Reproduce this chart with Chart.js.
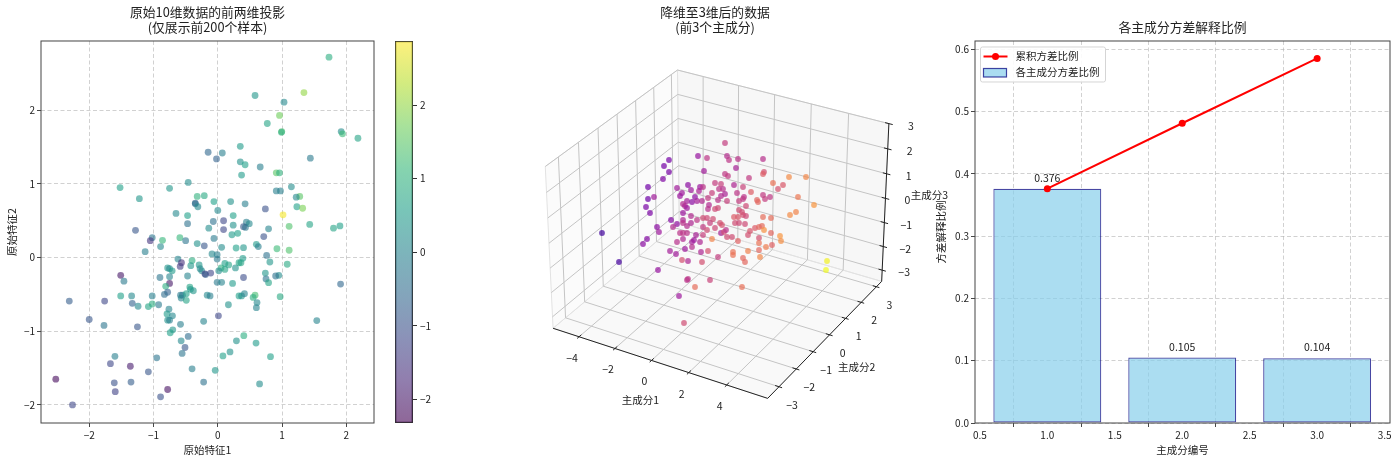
<!DOCTYPE html>
<html>
<head>
<meta charset="utf-8">
<title>PCA</title>
<script src="https://cdn.jsdelivr.net/npm/chart.js@4/dist/chart.umd.js"></script>
<style>
	html, body { margin: 0; padding: 0; background: #fff; }
	body { position: relative; width: 1400px; height: 462px; overflow: hidden; }
	canvas { position: absolute; top: 0; }
</style>
</head>
<body>
<canvas id="scatter2d" width="385" height="462" style="left:0"></canvas>
<canvas id="colorbar" width="55" height="462" style="left:385px"></canvas>
<canvas id="scatter3d" width="490" height="462" style="left:470px"></canvas>
<canvas id="variance" width="470" height="462" style="left:930px"></canvas>
<script>
// left panel: feature 1, feature 2, target (colour)
const featureX = [
	-1.52, -1.22, -.75, -.46, -.15, -.02, .07, .35, .35, .37,
	-.32, -.21, -.35, -.35, -.31, -.06, .20, -.65, -.47, 0,
	.24, -.47, -.07, .09, .24, -.14, .09, -1.28, -1.02, -1.05,
	-.86, -.89, -.59, -.50, -.32, -.21, -.06, .06, .22, .31,
	.285, -1.13, -.09, -.01, -.01, -.62, -.40, -.565, -.585, -.42,
	-.29, -.275, -.25, .11, .17, .05, .11, .015, .275, .33,
	-.78, -.75, -.71, -.75, -.90, -.47, -.20, -.19, -.11, -1.51,
	-1.46, -.75, -.81, -.01, .06, .23, -.435, -.425, -.38, -.78,
	-.83, -1.51, -1.34, -1.02, -.58, -.55, -.57, -.49, -.49, -.165,
	-.12, .33, -2.31, -1.76, -1.33, -1.24, -1.08, -1.02, -.92, -.76,
	-.79, -.705, -.78, -.75, .165, .01, -.22, -.58, -2.0, -1.77,
	-1.25, -.70, -.74, -.46, -.57, .29, -.51, .19, -.555, .08,
	-1.60, -.95, -1.67, -1.36, -.40, -.04, -1.08, -2.52, -1.61, -1.35,
	-.22, -1.595, -.78, -.89, -2.26, 1.73, .58, 1.34, 1.03, .96,
	.77, .995, .99, 1.92, 1.94, 2.18, .425, .66, 1.44, .91,
	.96, .91, .975, 1.145, 1.275, 1.22, 1.23, 1.32, .74, .425,
	1.015, .445, .49, .40, .43, 1.11, 1.43, 1.80, 1.90, .79,
	.715, .60, .63, .40, .92, 1.11, .76, .81, 1.08, .39,
	.36, .74, .95, .90, .75, .79, .40, 1.91, .58, .37,
	.415, .55, .97, .61, .60, 1.54, .405, .595, .82, .65
];
const featureY = [
	.95, .80, .94, 1.02, 1.43, 1.34, 1.42, 1.51, 1.30, 1.12,
	.83, .84, .74, .73, .69, .76, .76, .60, .57, .64,
	.57, .46, .49, .50, .44, .40, .38, .37, .27, .23,
	.235, .15, .27, .23, .19, .16, .26, .14, .31, .33,
	.13, .08, .05, .04, -.02, -.02, -.04, -.07, -.12, -.11,
	-.10, -.15, -.18, -.08, -.10, -.14, -.16, -.18, -.14, -.07,
	-.14, -.15, -.18, -.26, -.27, -.25, -.22, -.23, -.21, -.24,
	-.32, -.35, -.39, -.335, -.335, -.35, -.40, -.43, -.45, -.47,
	-.50, -.52, -.52, -.52, -.51, -.51, -.55, -.49, -.58, -.51,
	-.52, -.52, -.59, -.59, -.62, -.66, -.665, -.63, -.64, -.70,
	-.765, -.79, -.85, -.85, -.64, -.79, -.865, -.905, -.84, -.92,
	-.94, -.98, -1.02, -1.07, -1.13, -1.13, -1.22, -1.28, -1.30, -1.335,
	-1.34, -1.36, -1.44, -1.475, -1.51, -1.53, -1.55, -1.65, -1.70, -1.69,
	-1.69, -1.82, -1.79, -1.89, -2.0, 2.72, 2.20, 2.24, 2.11, 1.93,
	1.82, 1.71, 1.70, 1.71, 1.68, 1.62, 1.26, 1.23, 1.35, 1.15,
	1.15, .905, .905, .96, .83, .82, .69, .67, .66, .73,
	.58, .48, .46, .42, .41, .425, .45, .40, .43, .39,
	.285, .18, .15, .135, .12, .10, .03, -.06, -.09, -.01,
	-.07, -.21, -.24, -.25, -.29, -.34, -.27, -.36, -.51, -.52,
	-.49, -.54, -.53, -.61, -.68, -.855, -1.06, -1.16, -1.345, -1.715
];
const featureTarget = [
	.6, .4, .4, .2, -.6, -.7, -.1, .5, .3, .5,
	1.0, .8, -.8, -.3, .1, .6, .3, .1, .6, .1,
	.6, -.4, -.4, -1.2, .3, .2, -1.2, -.9, -.3, -1.5,
	1.1, .1, 1.1, -.3, .3, -.9, -.2, .2, .5, .6,
	.6, -.1, .1, -.1, -.2, 0, .9, -1.6, -1.4, .4,
	.4, .2, .1, .6, .7, .9, .7, .2, .3, .7,
	.4, .1, .5, 0, -.3, 0, -1.4, -.8, -1.2, -2.0,
	-.2, -2.0, .9, -.2, 0, .5, .7, .5, .4, -.7,
	-.5, .6, .1, -.1, -.2, -.2, 0, .6, .7, .1,
	-.1, .6, -.8, -1.2, -.7, .1, .7, .9, -.2, 0,
	.5, .1, .3, -.1, .3, -1.2, 0, -.1, -.9, -.3,
	-.9, .4, .6, -.5, .1, .3, -.9, .3, -.3, .6,
	-.1, -.3, -1.2, -1.9, -.1, .4, -.9, -2.2, -1.0, -.8,
	-.4, -1.3, -2.1, -1.0, -1.2, .9, .4, 2.0, .1, 1.7,
	.7, 1.3, 1.0, .2, 1.2, .7, .6, -.1, -.2, 1.5,
	1.0, -.1, -.1, .2, 1.5, .1, .6, 1.8, -1.0, -.1,
	2.8, -.1, .1, -.9, -.3, 1.4, .7, .7, .6, 0,
	-1.0, .5, -.1, .4, 1.2, 1.4, -.4, .4, .8, .5,
	.7, .4, .2, -.4, -.3, .7, -1.1, -.6, 1.3, .3,
	0, .9, .8, .1, 0, 0, .9, .5, .6, .2
];
const featureXTicks = [-2, -1, 0, 1, 2];
const featureYTicks = [-2, -1, 0, 1, 2];
const colorbarTicks = [-2, -1, 0, 1, 2];
const targetRange = [-2.32, 2.87];

const viewH = [
	-.51, -.56, -.51, -.57, -.72, -.72, -.66, -.74, -.70, -1.18,
	-.63, -.61, -.73, -.77, -.49, -.22, -.13, .05, .07, .09,
	-.16, .05, .08, -.43, -.32, -.29, -.20, -.17, -.21, -.05,
	.01, .03, -.01, -.08, .05, .01, -.38, -.40, -.25, -.33,
	-.28, -.23, -.18, -.37, -.35, -.33, -.12, .07, -.02, -.11,
	-.12, -.02, -.05, -.37, -.29, -.17, -.13, -.07, -.37, -.43,
	-.47, -.37, -.33, -.29, -.23, -.17, -.10, 0, .02, -.05,
	-.13, -.40, -.37, -.33, -.24, -.17, .01, .04, .07, -.08,
	-.43, -.37, -.28, -.26, -.20, -.35, -.28, -.50, -.44, -.19,
	-.12, -.02, -1.01, -.62, -.38, -.32, -.18, -.32, -.33, -.10,
	-.25, -.41, -.36, .18, .43, .16, .44, .43, .29, .69,
	.86, .53, .63, .58, .14, .23, .31, .17, .43, .45,
	.50, .78, .94, .24, .23, .19, .37, .38, .26, .19,
	.22, .14, .18, .23, .26, .43, .51, .76, .70, .15,
	.19, .25, .30, .35, .39, .42, .44, .06, .12, .28,
	.51, .39, .60, .61, .18, .39, .46, .52, .28, .39,
	.13, .13, .23, .40, 1.07, 1.06, .25, .22
];
const viewV = [
	.66, .60, .54, .47, .39, .27, .29, .19, .13, -.07,
	-.01, -.06, -.13, -.18, .06, .70, .68, .83, .70, .66,
	.55, .52, .50, .38, .41, .36, .39, .39, .35, .43,
	.42, .37, .37, .33, .32, .30, .33, .30, .29, .25,
	.24, .25, .25, .22, .20, .18, .28, .25, .26, .21,
	.17, .18, .17, .13, .10, .08, .08, .07, .06, .02,
	-.01, .03, 0, .03, .06, -.01, .03, .03, .01, -.02,
	-.04, -.07, -.07, -.07, -.09, -.09, -.07, -.06, -.11, -.13,
	-.16, -.13, -.16, -.14, -.16, -.23, -.21, -.25, -.28, -.26,
	-.25, -.31, -.36, -.44, -.34, -.35, -.36, -.53, -.54, -.54,
	-.61, -.70, -.97, .67, .67, .58, .54, .52, .48, .49,
	.49, .43, .41, .37, .41, .39, .34, .33, .31, .27,
	.29, .29, .21, .29, .27, .25, .26, .24, .20, .16,
	.14, .09, .09, .11, .10, .09, .08, .14, .11, .03,
	.03, .02, -.05, -.02, -.01, 0, -.04, -.04, -.11, -.09,
	-.07, -.12, -.10, -.15, -.15, -.17, -.21, -.19, -.25, -.24,
	-.26, -.29, -.32, -.31, -.35, -.44, -.36, -.61
];
const viewPc1 = [
	-2.6, -2.6, -2.5, -2.3, -2.7, -2.8, -1.4, -2.5, -2.4, -3.9,
	-2.0, -1.5, -2.2, -2.0, -2.2, -1.7, -.5, -.2, -.8, -.5,
	-1.4, -.4, -.3, -1.4, -2.0, -1.5, -1.6, -.6, -1.1, -.2,
	-.1, -.7, -.5, -.1, -1.1, -.9, -1.5, -1.6, -2.0, -1.3,
	-2.0, -1.3, -.9, -.9, -1.0, -1.5, -.3, -.1, -.6, -.9,
	-.7, .2, .2, -1.6, -.9, .3, .2, .3, -1.0, -1.9,
	-.9, -.6, -.8, -1.0, -.5, -.3, -.1, .4, .5, .2,
	.3, -.6, -.5, -.6, -1.2, -.1, -1.2, .3, .3, 2.1,
	-.7, -.9, -1.3, -1.5, -1.0, -1.5, -.8, -1.3, -1.4, -1.0,
	.5, -.2, -3.8, -1.7, .4, -1.0, .4, -.5, -.6, 0,
	1.4, -1.5, .3, -.6, -.7, -1.2, .4, .9, -.3, 2.3,
	2.2, 1.6, .7, .5, -1.0, 0, .9, -.5, -.3, -.2,
	-.4, 1.7, 2.6, -.6, -.4, -.2, 1.1, 1.2, .2, .3,
	.3, .8, .7, .4, .2, 1.4, 1.4, 2.1, 2.3, .3,
	.2, .2, .6, .8, 1.2, 1.3, 2.5, -.6, .3, .4,
	1.2, .4, 2.6, 2.4, 1.0, 1.6, 1.9, 1.0, 2.0, 1.2,
	1.6, 1.6, 1.2, 2.2, 4.9, 5.1, 1.2, 1.5
];
const pc1Range = [-4.9, 5.1];
const pc1Ticks = [-4, -2, 0, 2, 4];
const pc2Ticks = [-3, -2, -1, 0, 1, 2, 3];
const pc3Ticks = [-3, -2, -1, 0, 1, 2, 3];
const pc1Limits = [-5.47, 6.12];
const pc2Limits = [-3.64, 3.35];
const pc3Limits = [-3.48, 3.0];

// right panel
const componentIds = [1, 2, 3];
const varianceRatio = [0.376, 0.105, 0.104];
const cumulativeRatio = [0.376, 0.481, 0.585];
const varianceXTicks = [0.5, 1.0, 1.5, 2.0, 2.5, 3.0, 3.5];
const varianceYTicks = [0, 0.1, 0.2, 0.3, 0.4, 0.5, 0.6];

const viridis = ['#440154', '#482878', '#3e4989', '#31688e', '#26828e', '#1f9e89', '#35b779', '#6ece58', '#b5de2b', '#fde725'];
const plasma = ['#0d0887', '#47039f', '#7301a8', '#9c179e', '#bd3786', '#d8576b', '#ed7953', '#fb9f3a', '#fdca26', '#f0f921'];

const FONT = '"Noto Sans CJK SC", "Noto Sans", sans-serif';
const INK = '#222';
const GRID = 'rgba(176,176,176,0.65)';
const BAR_FILL = 'rgba(135,206,235,0.7)';
const BAR_EDGE = 'rgba(0,0,128,0.72)';

Chart.defaults.font.family = FONT;
Chart.defaults.font.size = 10;
Chart.defaults.color = INK;
Chart.defaults.animation = false;
Chart.defaults.responsive = false;
Chart.defaults.layout.autoPadding = false;
Chart.defaults.plugins.legend.display = false;
Chart.defaults.plugins.tooltip.enabled = false;

function hexToRgb(hex) {
	return [1, 3, 5].map((i) => parseInt(hex.slice(i, i + 2), 16));
}

function rampColor(ramp, t, alpha) {
	const pos = Math.min(Math.max(t, 0), 1) * (ramp.length - 1);
	const i = Math.min(Math.floor(pos), ramp.length - 2);
	const a = hexToRgb(ramp[i]);
	const b = hexToRgb(ramp[i + 1]);
	const rgb = a.map((v, k) => Math.round(v + (b[k] - v) * (pos - i)));
	return `rgba(${rgb[0]},${rgb[1]},${rgb[2]},${alpha})`;
}

function minusText(value) {
	return value < 0 ? `\u2212${Math.abs(value)}` : `${value}`;
}

function fixedTicks(values) {
	return (scale) => {
		scale.ticks = values.map((value) => ({ value }));
	};
}

function titleBlock(text, top, bottom) {
	return {
		display: true,
		text,
		fullSize: false,
		color: INK,
		font: { size: 12.8, weight: 'normal', lineHeight: 1.16 },
		padding: { top, bottom }
	};
}

function axis(min, max, values, label, size, format, titlePadding) {
	return {
		type: 'linear',
		min,
		max,
		offset: false,
		afterBuildTicks: fixedTicks(values),
		afterFit: (scale) => {
			if (scale.isHorizontal()) {
				scale.height = size;
			} else {
				scale.width = size;
			}
		},
		ticks: { callback: format, maxRotation: 0, autoSkip: false, padding: 2, color: INK },
		grid: { color: GRID, tickColor: '#333', tickLength: 4, lineWidth: 0.9 },
		border: { display: false, dash: [4, 2.5] },
		title: { display: true, text: label, color: INK, font: { size: 10.5 }, padding: titlePadding }
	};
}

// box round the plot area
const framePlugin = {
	id: 'frame',
	afterDatasetsDraw(chart) {
		const { ctx, chartArea: a } = chart;
		ctx.save();
		ctx.strokeStyle = '#444';
		ctx.lineWidth = 1;
		ctx.strokeRect(a.left, a.top, a.right - a.left, a.bottom - a.top);
		ctx.restore();
	}
};

new Chart(document.getElementById('scatter2d'), {
	type: 'scatter',
	data: {
		datasets: [{
			data: featureX.map((x, i) => ({ x, y: featureY[i] })),
			backgroundColor: featureTarget.map((v) => rampColor(viridis, (v - targetRange[0]) / (targetRange[1] - targetRange[0]), 0.6)),
			borderWidth: 0,
			pointRadius: 3.4
		}]
	},
	options: {
		layout: { padding: { right: 11 } },
		plugins: { title: titleBlock(['原始10维数据的前两维投影', '(仅展示前200个样本)'], 5, 6.3) },
		scales: {
			x: axis(-2.75, 2.43, featureXTicks, '原始特征1', 39, minusText, { top: 2, bottom: 6 }),
			y: axis(-2.245, 2.94, featureYTicks, '原始特征2', 41, minusText, { top: 6, bottom: 0 })
		}
	},
	plugins: [framePlugin]
});

new Chart(document.getElementById('colorbar'), {
	type: 'bar',
	data: {
		labels: ['target'],
		datasets: [{
			data: [targetRange],
			barPercentage: 1,
			categoryPercentage: 1,
			borderColor: '#333',
			borderWidth: 1,
			borderSkipped: false,
			backgroundColor: (context) => {
				const { ctx, chartArea } = context.chart;
				if (!chartArea) {
					return 'transparent';
				}
				const fill = ctx.createLinearGradient(0, chartArea.bottom, 0, chartArea.top);
				viridis.forEach((c, i) => fill.addColorStop(i / (viridis.length - 1), rampColor([c, c], 0, 0.6)));
				return fill;
			}
		}]
	},
	options: {
		layout: { padding: { left: 10, top: 41, bottom: 39 } },
		scales: {
			x: { display: false },
			y: {
				type: 'linear',
				position: 'right',
				min: targetRange[0],
				max: targetRange[1],
				afterBuildTicks: fixedTicks(colorbarTicks),
				afterFit: (scale) => { scale.width = 27; },
				ticks: { callback: minusText, padding: 3, color: INK },
				grid: { drawOnChartArea: false, tickColor: '#333', tickLength: 4 },
				border: { display: false }
			}
		}
	}
});

// matplotlib's default 3d view: box 4:4:3, elevation 30, azimuth -60, distance 10
const viewAspect = [1.1905, 1.1905, 0.8929];
const viewDist = 10;
const viewZoom = 20.65;
const viewShift = [0.004, -0.003];
const viewRight = [0.866, 0.5, 0];
const viewUp = [-0.25, 0.433, 0.866];
const viewOut = [0.433, -0.75, 0.5];

function project(pc1, pc2, pc3) {
	const p = [
		((pc1 - pc1Limits[0]) / (pc1Limits[1] - pc1Limits[0]) - 0.5) * viewAspect[0],
		((pc2 - pc2Limits[0]) / (pc2Limits[1] - pc2Limits[0]) - 0.5) * viewAspect[1],
		((pc3 - pc3Limits[0]) / (pc3Limits[1] - pc3Limits[0]) - 0.5) * viewAspect[2]
	];
	const dot = (v) => v[0] * p[0] + v[1] * p[1] + v[2] * p[2];
	const w = viewDist - dot(viewOut);
	return { x: dot(viewRight) / w * viewZoom + viewShift[0], y: dot(viewUp) / w * viewZoom + viewShift[1] };
}

const [x0, x1] = pc1Limits;
const [y0, y1] = pc2Limits;
const [z0, z1] = pc3Limits;

function segments(list) {
	const out = [];
	list.forEach(([a, b]) => {
		out.push(project(...a), project(...b), { x: NaN, y: NaN });
	});
	return out;
}

function pane(corners, fillColor, order) {
	return {
		type: 'scatter',
		showLine: true,
		data: corners.concat([corners[0]]).map((c) => project(...c)),
		backgroundColor: fillColor,
		fill: 'shape',
		borderColor: '#e2e2e2',
		borderWidth: 1,
		pointRadius: 0,
		tension: 0,
		order
	};
}

function wire(list, color, width, order) {
	return {
		type: 'scatter',
		showLine: true,
		data: segments(list),
		borderColor: color,
		borderWidth: width,
		pointRadius: 0,
		spanGaps: false,
		tension: 0,
		fill: false,
		order
	};
}

const gridSegments = [];
pc1Ticks.forEach((v) => {
	gridSegments.push([[v, y0, z0], [v, y1, z0]], [[v, y1, z0], [v, y1, z1]]);
});
pc2Ticks.forEach((v) => {
	gridSegments.push([[x1, v, z0], [x0, v, z0]], [[x0, v, z0], [x0, v, z1]]);
});
pc3Ticks.forEach((v) => {
	gridSegments.push([[x0, y0, v], [x0, y1, v]], [[x0, y1, v], [x1, y1, v]]);
});

const tickSegments = [];
pc1Ticks.forEach((v) => tickSegments.push([[v, y0 - 0.1, z0], [v, y0 + 0.12, z0]]));
pc2Ticks.forEach((v) => tickSegments.push([[x1 - 0.2, v, z0], [x1 + 0.16, v, z0]]));
pc3Ticks.forEach((v) => tickSegments.push([[x1 - 0.2, y1, v], [x1 + 0.2, y1, v]]));

const axisSegments = [
	[[x0, y0, z0], [x1, y0, z0]],
	[[x1, y0, z0], [x1, y1, z0]],
	[[x1, y1, z0], [x1, y1, z1]]
];

// tick and axis texts sit at a fixed pixel distance from their projected anchor
const axisTexts = [];
pc1Ticks.forEach((v) => axisTexts.push({ at: project(v, y0, z0), text: minusText(v), dx: -7, dy: 21 }));
pc2Ticks.forEach((v) => axisTexts.push({ at: project(x1, v, z0), text: minusText(v), dx: 13, dy: 18 }));
pc3Ticks.forEach((v) => axisTexts.push({ at: project(x1, y1, v), text: minusText(v), dx: 22, dy: 2 }));
axisTexts.push({ at: project(0, y0, z0), text: '主成分1', dx: -11, dy: 40 });
axisTexts.push({ at: project(x1, 0, z0), text: '主成分2', dx: 27, dy: 32 });
axisTexts.push({ at: project(x1, y1, 0), text: '主成分3', dx: 44, dy: -3 });

const axisTextPlugin = {
	id: 'axisText',
	afterDatasetsDraw(chart) {
		const { ctx, scales } = chart;
		ctx.save();
		ctx.fillStyle = INK;
		ctx.font = `10.5px ${FONT}`;
		ctx.textAlign = 'center';
		ctx.textBaseline = 'middle';
		axisTexts.forEach((t) => {
			ctx.fillText(t.text, scales.x.getPixelForValue(t.at.x) + t.dx, scales.y.getPixelForValue(t.at.y) + t.dy);
		});
		ctx.restore();
	}
};

new Chart(document.getElementById('scatter3d'), {
	type: 'scatter',
	data: {
		datasets: [
			{
				data: viewH.map((x, i) => ({ x, y: viewV[i] })),
				backgroundColor: viewPc1.map((v) => rampColor(plasma, (v - pc1Range[0]) / (pc1Range[1] - pc1Range[0]), 0.7)),
				borderWidth: 0,
				pointRadius: 2.9,
				order: 0
			},
			wire(axisSegments, '#222', 1, 1),
			wire(tickSegments, '#222', 1, 1),
			wire(gridSegments, '#c4c4c4', 1, 2),
			pane([[x0, y0, z0], [x0, y1, z0], [x0, y1, z1], [x0, y0, z1]], 'rgba(242,242,242,0.3)', 3),
			pane([[x0, y1, z0], [x1, y1, z0], [x1, y1, z1], [x0, y1, z1]], 'rgba(230,230,230,0.3)', 3),
			pane([[x0, y0, z0], [x1, y0, z0], [x1, y1, z0], [x0, y1, z0]], 'rgba(236,236,236,0.3)', 3)
		]
	},
	options: {
		plugins: { title: { ...titleBlock(['降维至3维后的数据', '(前3个主成分)'], 5, 6.3), fullSize: true } },
		scales: {
			x: { type: 'linear', display: false, min: -2.5, max: 2.4 },
			y: { type: 'linear', display: false, min: -2.36, max: 1.85 }
		}
	},
	plugins: [axisTextPlugin]
});

// legend inside the plot, with a line+dot handle and a patch handle
const legendBoxPlugin = {
	id: 'legendBox',
	afterDatasetsDraw(chart) {
		const { ctx, chartArea: a } = chart;
		const left = a.left + 5.5;
		const top = a.top + 6;
		const [lineSet, barSet] = chart.data.datasets;
		ctx.save();
		ctx.fillStyle = 'rgba(255,255,255,0.9)';
		ctx.strokeStyle = '#d5d5d5';
		ctx.lineWidth = 1;
		ctx.beginPath();
		ctx.roundRect(left, top, 125, 35, 2);
		ctx.fill();
		ctx.stroke();

		ctx.strokeStyle = lineSet.borderColor;
		ctx.fillStyle = lineSet.borderColor;
		ctx.lineWidth = lineSet.borderWidth;
		ctx.beginPath();
		ctx.moveTo(left + 3, top + 9.5);
		ctx.lineTo(left + 27, top + 9.5);
		ctx.stroke();
		ctx.beginPath();
		ctx.arc(left + 15, top + 9.5, lineSet.pointRadius, 0, Math.PI * 2);
		ctx.fill();

		ctx.fillStyle = barSet.backgroundColor;
		ctx.strokeStyle = barSet.borderColor;
		ctx.lineWidth = barSet.borderWidth;
		ctx.fillRect(left + 3, top + 21.5, 23, 8.5);
		ctx.strokeRect(left + 3, top + 21.5, 23, 8.5);

		ctx.fillStyle = INK;
		ctx.font = `10.5px ${FONT}`;
		ctx.textBaseline = 'middle';
		ctx.fillText(lineSet.label, left + 35, top + 9.5);
		ctx.fillText(barSet.label, left + 35, top + 25.5);
		ctx.restore();
	}
};

const barTextPlugin = {
	id: 'barText',
	afterDatasetsDraw(chart) {
		const { ctx, scales } = chart;
		ctx.save();
		ctx.fillStyle = INK;
		ctx.font = `10.5px ${FONT}`;
		ctx.textAlign = 'center';
		ctx.textBaseline = 'middle';
		varianceRatio.forEach((v, i) => {
			ctx.fillText(v.toFixed(3), scales.x.getPixelForValue(componentIds[i]), scales.y.getPixelForValue(v) - 11);
		});
		ctx.restore();
	}
};

new Chart(document.getElementById('variance'), {
	data: {
		datasets: [
			{
				type: 'line',
				label: '累积方差比例',
				data: componentIds.map((x, i) => ({ x, y: cumulativeRatio[i] })),
				borderColor: 'red',
				backgroundColor: 'red',
				borderWidth: 2,
				pointRadius: 3.5,
				pointBorderWidth: 0,
				tension: 0,
				order: 0
			},
			{
				type: 'bar',
				label: '各主成分方差比例',
				data: componentIds.map((x, i) => ({ x, y: varianceRatio[i] })),
				backgroundColor: BAR_FILL,
				borderColor: BAR_EDGE,
				borderWidth: 1.2,
				borderSkipped: false,
				barPercentage: 1.6,
				categoryPercentage: 1,
				order: 1
			}
		]
	},
	options: {
		layout: { padding: { right: 10 } },
		plugins: { title: titleBlock('各主成分方差解释比例', 20, 6.15) },
		scales: {
			x: axis(0.464, 3.54, varianceXTicks, '主成分编号', 39, (v) => v.toFixed(1), { top: 2, bottom: 6 }),
			y: axis(0, 0.613, varianceYTicks, '方差解释比例', 45, (v) => v.toFixed(1), { top: 5, bottom: 0 })
		}
	},
	plugins: [framePlugin, legendBoxPlugin, barTextPlugin]
});
</script>
</body>
</html>
